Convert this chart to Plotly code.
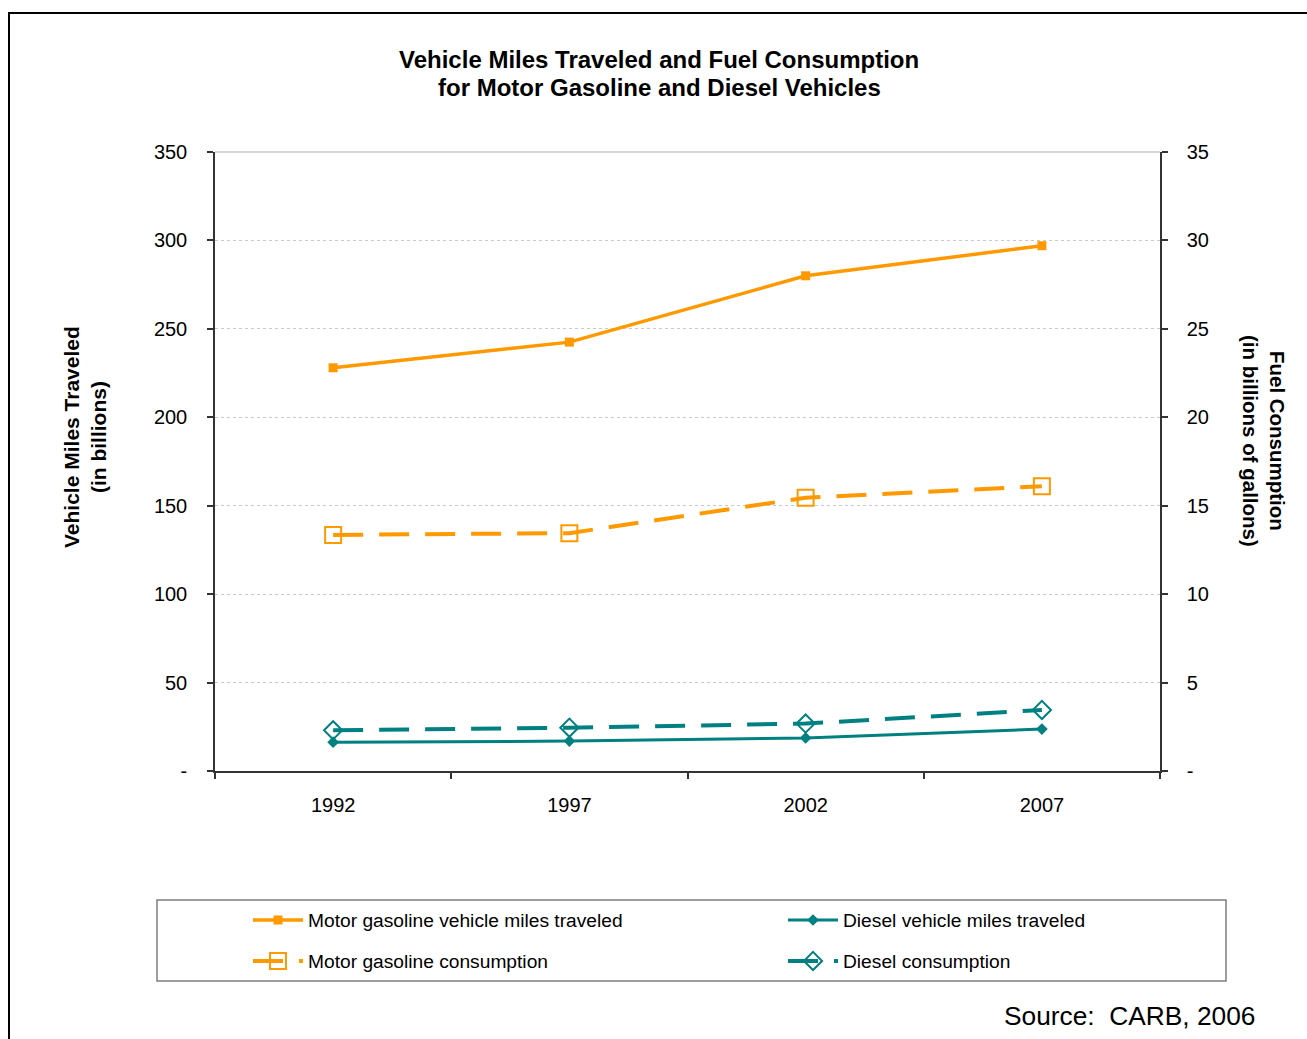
import plotly.graph_objects as go

years = ["1992", "1997", "2002", "2007"]
gas_vmt = [228, 242.5, 280, 297]          # billions of miles (left axis)
diesel_vmt = [16.3, 16.9, 18.7, 23.7]     # billions of miles (left axis)
gas_cons = [13.35, 13.45, 15.45, 16.1]    # billions of gallons (right axis)
diesel_cons = [2.3, 2.45, 2.68, 3.45]     # billions of gallons (right axis)

left_ticks = [0, 50, 100, 150, 200, 250, 300, 350]
left_labels = ["-", "50", "100", "150", "200", "250", "300", "350"]
right_ticks = [0, 5, 10, 15, 20, 25, 30, 35]
right_labels = ["-", "5", "10", "15", "20", "25", "30", "35"]

ORANGE = "#FF9900"
TEAL = "#008080"
FONT = "Liberation Sans, Arial, sans-serif"

W, H = 1307, 1039
L, R, T, B = 215, 1160, 152, 771


def px(x):
    return (x - L) / (R - L)


def py(y):
    return (B - y) / (B - T)


xidx = list(range(len(years)))

fig = go.Figure()
fig.add_trace(go.Scatter(
    x=xidx, y=gas_vmt, name="Motor gasoline vehicle miles traveled",
    mode="lines+markers", line=dict(color=ORANGE, width=3.5),
    marker=dict(symbol="square", size=9, color=ORANGE), legend="legend"))
fig.add_trace(go.Scatter(
    x=xidx, y=diesel_vmt, name="Diesel vehicle miles traveled",
    mode="lines+markers", line=dict(color=TEAL, width=3),
    marker=dict(symbol="diamond", size=9, color=TEAL), legend="legend2"))
fig.add_trace(go.Scatter(
    x=xidx, y=gas_cons, name="Motor gasoline consumption", yaxis="y2",
    mode="lines+markers", line=dict(color=ORANGE, width=4, dash="30px,16px"),
    marker=dict(symbol="square-open", size=16, color=ORANGE, line=dict(width=2)),
    legend="legend3"))
fig.add_trace(go.Scatter(
    x=xidx, y=diesel_cons, name="Diesel consumption", yaxis="y2",
    mode="lines+markers", line=dict(color=TEAL, width=4, dash="30px,16px"),
    marker=dict(symbol="diamond-open", size=14, color=TEAL, line=dict(width=2)),
    legend="legend4"))

axis_line = dict(showline=True, linecolor="#333333", linewidth=1.5)

fig.update_layout(
    width=W, height=H,
    margin=dict(l=L, r=W - R, t=T, b=H - B),
    paper_bgcolor="white", plot_bgcolor="white",
    font=dict(family=FONT, color="black", size=20),
    xaxis=dict(
        range=[-0.5, 3.5], tickvals=xidx, ticktext=years, ticks="",
        showgrid=False, zeroline=False, ticklabelstandoff=15,
        minor=dict(tickvals=[-0.5, 0.5, 1.5, 2.5, 3.5], ticks="outside",
                   ticklen=6, tickcolor="#333333", tickwidth=1.5),
        tickfont=dict(size=20), **axis_line),
    yaxis=dict(
        range=[0, 350], tickvals=left_ticks, ticktext=left_labels,
        ticks="outside", ticklen=6, tickcolor="#333333", tickwidth=1.5,
        showgrid=True, gridcolor="#c8c8c8", griddash="dot", gridwidth=1,
        zeroline=False, ticklabelstandoff=16, tickfont=dict(size=20),
        **axis_line),
    yaxis2=dict(
        range=[0, 35], tickvals=right_ticks, ticktext=right_labels,
        overlaying="y", side="right",
        ticks="outside", ticklen=6, tickcolor="#333333", tickwidth=1.5,
        showgrid=False, zeroline=False, ticklabelstandoff=15,
        tickfont=dict(size=20), **axis_line),
    showlegend=True,
)

leg_common = dict(bgcolor="rgba(0,0,0,0)", borderwidth=0, itemwidth=50,
                  font=dict(size=19.2, family=FONT, color="black"),
                  xanchor="left", yanchor="middle", itemclick=False,
                  itemdoubleclick=False)
fig.update_layout(
    legend=dict(x=px(248), y=py(920), **leg_common),
    legend2=dict(x=px(783), y=py(920), **leg_common),
    legend3=dict(x=px(248), y=py(961), **leg_common),
    legend4=dict(x=px(783), y=py(961), **leg_common),
)

shapes = [
    # outer frame
    dict(type="rect", xref="paper", yref="paper",
         x0=px(9), y0=py(1060), x1=px(1330), y1=py(13),
         line=dict(color="black", width=2), fillcolor="rgba(0,0,0,0)"),
    # legend box
    dict(type="rect", xref="paper", yref="paper",
         x0=px(157), y0=py(981), x1=px(1226), y1=py(900),
         line=dict(color="#7f7f7f", width=1.5), fillcolor="rgba(0,0,0,0)"),
    # top gridline of the plot area
    dict(type="line", xref="paper", yref="paper", x0=0, x1=1, y0=1, y1=1,
         line=dict(color="#b0b0b0", width=1), layer="below"),
]
fig.update_layout(shapes=shapes)

annotations = [
    dict(text="<b>Vehicle Miles Traveled and Fuel Consumption</b>",
         x=px(659), y=py(59), xref="paper", yref="paper", showarrow=False,
         xanchor="center", yanchor="middle", font=dict(size=24)),
    dict(text="<b>for Motor Gasoline and Diesel Vehicles</b>",
         x=px(659), y=py(87), xref="paper", yref="paper", showarrow=False,
         xanchor="center", yanchor="middle", font=dict(size=24)),
    dict(text="<b>Vehicle Miles Traveled<br>(in billions)</b>",
         x=px(85), y=py(437), xref="paper", yref="paper", showarrow=False,
         textangle=-90, xanchor="center", yanchor="middle", font=dict(size=21)),
    dict(text="<b>Fuel Consumption<br>(in billions of gallons)</b>",
         x=px(1264), y=py(441), xref="paper", yref="paper", showarrow=False,
         textangle=90, xanchor="center", yanchor="middle", font=dict(size=20.5)),
    dict(text="Source:  CARB, 2006",
         x=px(1257), y=py(1016), xref="paper", yref="paper", showarrow=False,
         xanchor="right", yanchor="middle", font=dict(size=26.3)),
]
fig.update_layout(annotations=annotations)

fig.write_html("out.html")
